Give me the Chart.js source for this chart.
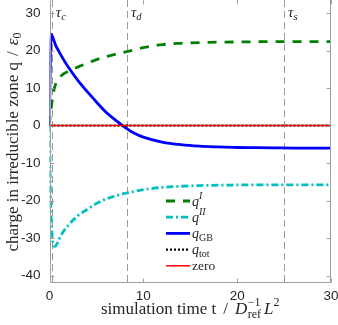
<!DOCTYPE html>
<html><head><meta charset="utf-8">
<script src="https://cdn.jsdelivr.net/npm/chart.js@4/dist/chart.umd.min.js"></script>
<style>html,body{margin:0;padding:0;background:#fff}</style>
</head><body>
<canvas id="c" width="338" height="325"></canvas>
<script>
// ---- data ----
const tVals = [0, 0.05, 0.1, 0.2, 0.3, 0.5, 0.7, 1, 1.5, 2, 3, 4, 5, 6, 7, 8, 9, 10, 12, 14, 16, 18, 20, 22, 24, 26, 28, 30];
const qI   = [0, 2, 3.5, 5, 7, 9.8, 11.3, 12.6, 13.8, 14.5, 15.6, 16.6, 17.6, 18.4, 19.0, 19.6, 20.2, 20.8, 21.6, 21.95, 22.15, 22.25, 22.3, 22.35, 22.4, 22.4, 22.4, 22.4];
const qII  = [0, -10, -18, -26, -30, -32.2, -32.0, -30.4, -28.2, -26.6, -24.1, -22.4, -20.8, -19.6, -18.8, -18.1, -17.6, -17.1, -16.5, -16.2, -16.0, -15.9, -15.85, -15.8, -15.8, -15.8, -15.8, -15.8];
const qGB  = [0, 12, 19, 24.3, 23.8, 22.5, 21.2, 19.8, 17.6, 15.6, 12.1, 9.1, 6.3, 3.6, 1.5, -0.4, -2.0, -3.1, -4.4, -5.1, -5.5, -5.7, -5.85, -5.9, -5.95, -6.0, -6.0, -6.0];
const tFlat = [0, 30];
const qTot = [0, 0];
const zeroLine = [0, 0];
const tauTimes = [0.25, 8.25, 25];
const tauSubs = ['c', 'd', 's'];
const xTicks = [0, 10, 20, 30];
const yTicks = [-40, -30, -20, -10, 0, 10, 20, 30];

const serif = '"Liberation Serif", "DejaVu Serif", serif';
const sans = '"Liberation Sans", Arial, sans-serif';
function fnt(st, sz){ return (st === 'i' ? 'italic ' : '') + sz + 'px ' + serif; }
function segW(ctx, s){
  if (s.stack){
    ctx.font = fnt(s.sup.st, s.sup.sz); const a = ctx.measureText(s.sup.t).width;
    ctx.font = fnt(s.sub.st, s.sub.sz); const b = ctx.measureText(s.sub.t).width;
    return Math.max(a, b) + (s.gap || 0);
  }
  ctx.font = fnt(s.st, s.sz); return ctx.measureText(s.t).width + (s.gap || 0);
}
function richWidth(ctx, segs){ return segs.reduce((w, s) => w + segW(ctx, s), 0); }
function drawRich(ctx, x, y, segs){
  let cx = x;
  ctx.textBaseline = 'alphabetic'; ctx.textAlign = 'left';
  for (const s of segs){
    if (s.stack){
      ctx.font = fnt(s.sup.st, s.sup.sz); ctx.fillText(s.sup.t, cx, y + s.sup.dy);
      ctx.font = fnt(s.sub.st, s.sub.sz); ctx.fillText(s.sub.t, cx, y + s.sub.dy);
    } else {
      ctx.font = fnt(s.st, s.sz); ctx.fillText(s.t, cx, y + (s.dy || 0));
    }
    cx += segW(ctx, s);
  }
}
const pts = (xs, ys) => xs.map((x, i) => ({x, y: ys[i]}));

const styles = {
  qI:  {color: '#008000', width: 2.8, dash: [9, 8]},
  qII: {color: '#00BFBF', width: 2.8, dash: [7, 3, 2, 3]},
  qGB: {color: '#0000FF', width: 2.8, dash: []},
  qTot:{color: '#000000', width: 2.2, dash: [2, 2]},
  zero:{color: '#FF0000', width: 1.5, dash: []}
};

const legendItems = [
  {key: 'qI',  segs: [{t:'q', st:'i', sz:14}, {t:'I', st:'i', sz:10, dy:-7}]},
  {key: 'qII', segs: [{t:'q', st:'i', sz:14}, {t:'II', st:'i', sz:10, dy:-7}]},
  {key: 'qGB', segs: [{t:'q', st:'i', sz:14}, {t:'GB', st:'r', sz:10, dy:3}]},
  {key: 'qTot',segs: [{t:'q', st:'i', sz:14}, {t:'tot', st:'r', sz:10, dy:3}]},
  {key: 'zero',segs: [{t:'zero', st:'r', sz:13.5}]}
];

const framePlugin = {
  id: 'frame',
  beforeDatasetsDraw(chart){
    const {ctx, chartArea: a, scales: {x, y}} = chart;
    ctx.save();
    ctx.beginPath(); ctx.rect(a.left, a.top, a.right - a.left, a.bottom - a.top); ctx.clip();
    ctx.strokeStyle = '#9a9a9a'; ctx.lineWidth = 1; ctx.setLineDash([7, 4]);
    tauTimes.forEach(t => {
      const px = Math.round(x.getPixelForValue(t)) + 0.5;
      ctx.beginPath(); ctx.moveTo(px, a.top); ctx.lineTo(px, a.bottom); ctx.stroke();
    });
    ctx.restore();
    ctx.save();
    ctx.fillStyle = '#262626';
    tauTimes.forEach((t, i) => {
      const px = x.getPixelForValue(t);
      drawRich(ctx, px + 4, 17, [{t:'τ', st:'i', sz:15}, {t:tauSubs[i], st:'i', sz:10.5, dy:3}]);
    });
    ctx.restore();
  },
  afterDraw(chart){
    const {ctx, chartArea: a, scales: {x, y}} = chart;
    ctx.save();
    ctx.strokeStyle = '#a0a0a0'; ctx.lineWidth = 1; ctx.setLineDash([]);
    const L = Math.round(a.left) + 0.5, R = Math.round(a.right) - 0.5, T = Math.round(a.top) - 0.5, B = Math.round(a.bottom) - 0.5;
    ctx.strokeRect(L, T, R - L, B - T);
    ctx.beginPath();
    xTicks.forEach(v => { const p = Math.round(x.getPixelForValue(v)) + 0.5;
      ctx.moveTo(p, B); ctx.lineTo(p, B - 4); ctx.moveTo(p, T); ctx.lineTo(p, T + 5); });
    yTicks.forEach(v => { const p = Math.round(y.getPixelForValue(v)) + 0.5;
      ctx.moveTo(L, p); ctx.lineTo(L + 4, p); ctx.moveTo(R, p); ctx.lineTo(R - 4, p); });
    ctx.stroke();
    // legend
    const lx0 = 166, lx1 = 190, tx = 192, y0 = 201, step = 16.2;
    legendItems.forEach((it, i) => {
      const st = styles[it.key], yy = y0 + i * step;
      ctx.strokeStyle = st.color; ctx.lineWidth = st.width; ctx.setLineDash(st.dash);
      ctx.beginPath(); ctx.moveTo(lx0, yy); ctx.lineTo(lx1, yy); ctx.stroke();
      ctx.fillStyle = '#262626';
      drawRich(ctx, tx, yy + 4.5, it.segs);
    });
    ctx.setLineDash([]);
    // axis titles
    ctx.fillStyle = '#262626';
    const xs = [{t:'simulation time t', st:'r', sz:17, gap:7}, {t:'/', st:'r', sz:17, gap:7}, {t:'D', st:'i', sz:17, gap:0.5},
      {stack:true, sup:{t:'−1', st:'r', sz:12, dy:-7.5}, sub:{t:'ref', st:'r', sz:12, dy:4}, gap:3},
      {t:'L', st:'i', sz:17}, {t:'2', st:'r', sz:12, dy:-7.5}];
    const cxm = (a.left + a.right) / 2;
    drawRich(ctx, cxm - richWidth(ctx, xs) / 2, 313.5, xs);
    const ys = [{t:'charge in irreducible zone q', st:'r', sz:17, gap:6}, {t:'/', st:'r', sz:17, gap:6}, {t:'ε', st:'i', sz:17}, {t:'0', st:'r', sz:12, dy:3}];
    ctx.save();
    ctx.translate(17.5, 142);
    ctx.rotate(-Math.PI / 2);
    drawRich(ctx, -richWidth(ctx, ys) / 2, 0, ys);
    ctx.restore();
    ctx.restore();
  }
};

const mk = (label, xs, ys, key, order, smooth) => ({
  label, data: pts(xs, ys), borderColor: styles[key].color, borderWidth: styles[key].width,
  borderDash: styles[key].dash, pointRadius: 0, fill: false, order,
  cubicInterpolationMode: smooth ? 'monotone' : 'default', tension: 0
});

new Chart(document.getElementById('c'), {
  type: 'line',
  data: { datasets: [
    mk('zero', tFlat, zeroLine, 'zero', 0, false),
    mk('q_tot', tFlat, qTot, 'qTot', 1, false),
    mk('q_GB', tVals, qGB, 'qGB', 2, true),
    mk('q_II', tVals, qII, 'qII', 3, true),
    mk('q_I', tVals, qI, 'qI', 4, true)
  ]},
  options: {
    responsive: false, animation: false, devicePixelRatio: 1,
    layout: { padding: { top: 0, right: 7, left: 0, bottom: 0 } },
    plugins: { legend: { display: false }, tooltip: { enabled: false } },
    scales: {
      x: { type: 'linear', min: 0, max: 30,
        afterBuildTicks: s => { s.ticks = xTicks.map(v => ({value: v})); },
        afterFit: s => { s.height = 42; s.paddingLeft = 0; s.paddingRight = 0; },
        grid: { display: false, drawTicks: false }, border: { display: false },
        ticks: { padding: 5, color: '#262626', font: { family: sans, size: 13.5 }, maxRotation: 0 } },
      y: { type: 'linear', min: -42, max: 33.5,
        afterBuildTicks: s => { s.ticks = yTicks.map(v => ({value: v})); },
        afterFit: s => { s.width = 49.5; s.paddingTop = 0; s.paddingBottom = 0; },
        grid: { display: false, drawTicks: false }, border: { display: false },
        ticks: { padding: 9, color: '#262626', font: { family: sans, size: 13.5 } } }
    }
  },
  plugins: [framePlugin]
});
</script>
</body></html>
